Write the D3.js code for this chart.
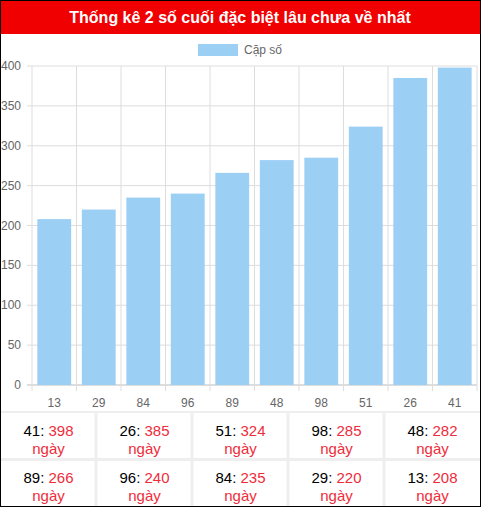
<!DOCTYPE html><html><head><meta charset="utf-8">
<script src="https://d3js.org/d3.v7.min.js"></script>
<style>body{margin:0;font-family:Arial,"Liberation Sans",sans-serif}</style></head><body>
<svg id="c" width="481" height="507"></svg>
<script>
const categories=["13","29","84","96","89","48","98","51","26","41"];
const values=[208,220,235,240,266,282,285,324,385,398];
const yTicks=[0,50,100,150,200,250,300,350,400];
const tableNums=["41","26","51","98","48","89","96","84","29","13"];
const tableVals=[398,385,324,285,282,266,240,235,220,208];
const svg=d3.select("#c");
svg.append("rect").attr("x",0.5).attr("y",0.5).attr("width",480).attr("height",506).attr("fill","#fff").attr("stroke","#000");
svg.append("rect").attr("x",1).attr("y",1).attr("width",479).attr("height",33).attr("fill","#f00000");
svg.append("text").attr("x",240).attr("y",23).attr("text-anchor","middle").attr("fill","#fff").attr("font-weight","bold").attr("font-size",16).text("Thống kê 2 số cuối đặc biệt lâu chưa về nhất");
// legend
svg.append("rect").attr("x",198).attr("y",44).attr("width",40).attr("height",12).attr("fill","#9ccff4");
svg.append("text").attr("x",244).attr("y",54).attr("font-size",12).attr("fill","#666").text("Cặp số");
const x=d3.scaleBand().domain(categories).range([32,477]).paddingInner(0.24).paddingOuter(0.12);
const y=d3.scaleLinear().domain([0,400]).range([385,66]);
const xg=d3.scaleBand().domain(categories).range([32,477]);
const g=svg.append("g");
yTicks.forEach(t=>{g.append("line").attr("x1",27).attr("x2",477).attr("y1",y(t)).attr("y2",y(t)).attr("stroke",t===0?"#bbb":"#ddd");
 g.append("text").attr("x",21).attr("y",y(t)+4).attr("text-anchor","end").attr("font-size",12).attr("fill","#666").text(t);});
categories.forEach((c,i)=>{const xx=xg(c);g.append("line").attr("x1",xx).attr("x2",xx).attr("y1",66).attr("y2",391).attr("stroke","#ddd");});
g.append("line").attr("x1",477).attr("x2",477).attr("y1",66).attr("y2",391).attr("stroke","#ddd");
g.selectAll(".bar").data(values).join("rect").attr("x",(d,i)=>x(categories[i])).attr("width",x.bandwidth())
 .attr("y",d=>y(d)).attr("height",d=>385-y(d)).attr("fill","#9ccff4");
categories.forEach(c=>g.append("text").attr("x",xg(c)+xg.bandwidth()/2).attr("y",407).attr("text-anchor","middle").attr("font-size",12).attr("fill","#666").text(c));
// table
const cw=96, rows=[413,460];
svg.append("line").attr("x1",1).attr("x2",480).attr("y1",412).attr("y2",412).attr("stroke","#eee").attr("stroke-width",2);
svg.append("line").attr("x1",1).attr("x2",480).attr("y1",459.5).attr("y2",459.5).attr("stroke","#eee").attr("stroke-width",3);
for(let k=1;k<5;k++)svg.append("line").attr("x1",k*cw).attr("x2",k*cw).attr("y1",413).attr("y2",506).attr("stroke","#eee").attr("stroke-width",3);
tableNums.forEach((n,i)=>{const r=Math.floor(i/5),c=i%5,cx=c*cw+cw/2+0.5,ty=rows[r];
 const t=svg.append("text").attr("x",cx).attr("y",ty+23).attr("text-anchor","middle").attr("font-size",15);
 t.append("tspan").attr("fill","#000").text(n+": ");t.append("tspan").attr("fill","#ee2c3c").text(tableVals[i]);
 svg.append("text").attr("x",cx).attr("y",ty+41).attr("text-anchor","middle").attr("font-size",15).attr("fill","#ee2c3c").text("ngày");});
</script></body></html>
